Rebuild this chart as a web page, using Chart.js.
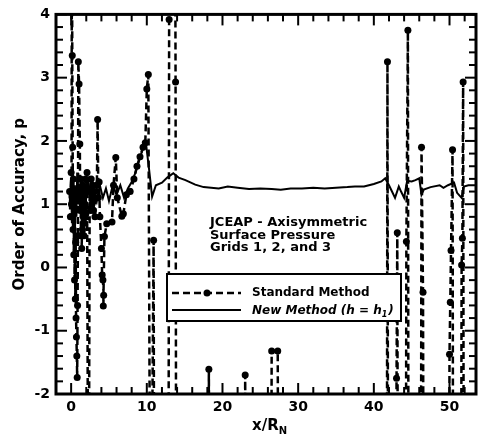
<!DOCTYPE html>
<html>
<head>
<meta charset="utf-8">
<script src="https://cdn.jsdelivr.net/npm/chart.js@4/dist/chart.umd.min.js"></script>
<style>
  html, body { margin: 0; padding: 0; background: #fff; }
</style>
</head>
<body>
<canvas id="chart" width="480" height="437"></canvas>
<script>
// Standard method: x/R_N and order of accuracy p (values below -2 / above 4 run off the plot)
const stdX = [-0.2, -0.1, 0.0, 0.05, 0.1, 0.15, 0.2, 0.25, 0.3, 0.35, 0.4, 0.45, 0.5, 0.55, 0.6, 0.65, 0.7, 0.75, 0.8,
  0.85, 0.9, 0.95, 1.05, 1.15, 1.2, 1.25, 1.3, 1.35, 1.4, 1.45, 1.5, 1.55, 1.6, 1.65, 1.7, 1.75, 1.8, 1.85, 1.9,
  1.95, 2.0, 2.1, 2.3, 2.45, 2.55, 2.65, 2.75, 2.85, 2.95, 3.05, 3.15, 3.25, 3.4, 3.5, 3.6, 3.7, 3.8, 4.0, 4.1,
  4.2, 4.3, 4.25, 4.4, 4.7, 5.4, 5.6, 5.9, 6.1, 6.7, 6.9, 7.3, 7.8, 8.3, 8.7, 9.1,
  9.5, 9.8, 10.0, 10.2, 10.5, 10.9, 11.0, 12.85, 12.95, 13.05, 13.7, 13.8, 13.9, 18.1, 18.2, 18.3, 22.9, 23.0,
  23.1, 26.4, 26.5, 27.3, 27.4, 41.7, 41.8, 41.9, 42.9, 43.0, 43.1, 43.2, 44.2, 44.3, 44.5, 44.6, 46.2, 46.3,
  46.5, 46.6, 49.9, 50.0, 50.1, 50.2, 50.4, 50.5, 51.5, 51.6, 51.7, 51.8, 51.9, 53.5];
const stdP = [1.2, 0.8, 1.5, 1.0, 6, 3.35, 1.9, 0.6, 1.4, 0.2, 1.1, -0.2, 0.9, -0.5, 0.4, -0.8, -1.1, -1.4, -1.74,
  -0.6, 0.5, 3.25, 2.9, 1.95, 0.9, 1.4, 0.5, 1.2, 0.3, 1.0, 0.6, 1.3, 0.8, 1.1, 0.5, 1.25, 0.7, 1.0, 1.4,
  0.85, 1.2, 1.5, -6, 1.2, 0.9, 1.4, 1.0, 1.3, 0.9, 1.2, 0.8, 1.1, 1.3, 2.34, 1.1, 1.35, 0.8, 0.3, -0.12,
  -0.2, -0.44, -0.61, 0.49, 0.69, 0.72, 1.3, 1.74, 1.1, 0.81, 0.85, 1.15, 1.2, 1.4, 1.6, 1.75,
  1.9, 1.97, 2.82, 3.05, -6, 0.43, -6, -6, 3.92, 8, 8, 2.93, -6, -6, -1.61, -6, -6, -1.70,
  -6, -6, -1.32, -1.32, -6, -6, 3.25, -6, -6, -1.75, 0.55, -6, -6, 0.41, 3.75, -6, -6, 1.9,
  -0.39, -6, -6, -1.37, -0.55, 0.27, 1.86, -6, -6, 0.04, 0.46, 2.93, -6, -6];

// New method (h = h1)
const newX = [-0.2, 0.0, 0.1, 0.2, 0.3, 0.4, 0.5, 0.6, 0.7, 0.8, 0.9, 1.0, 1.2, 1.4, 1.6, 1.8, 2.0, 2.3, 2.6, 3.0,
  3.4, 3.8, 4.2, 4.6, 5.0, 5.5, 6.0, 6.5, 7.0, 7.5, 8.0, 8.5, 9.0, 9.5, 9.9, 10.3, 10.7, 11.2, 12.0, 12.7, 13.5,
  14.2, 15.1, 16.4, 17.5, 18.5, 19.5, 20.7, 22, 23.5, 25, 26.5, 27.7, 29, 30.5, 32, 33.5, 35, 36.5, 37.5, 38.7,
  40.0, 41.0, 41.5, 42.0, 42.4, 42.8, 43.3, 43.6, 44.0, 44.4, 45.0, 45.5, 46.0, 46.3, 46.6, 47.5, 48.7, 49.2,
  49.8, 50.6, 51.0, 51.6, 51.9, 52.5, 53.5];
const newP = [1.0, 1.4, 0.7, 1.6, 0.9, 1.3, 0.6, 1.2, 0.8, 1.5, 1.0, 1.3, 0.9, 1.4, 1.0, 1.3, 1.1, 1.35, 1.0, 1.25,
  1.05, 1.3, 1.1, 1.25, 1.05, 1.3, 1.15, 1.3, 1.1, 1.25, 1.35, 1.5, 1.7, 1.88, 1.95, 1.55, 1.12, 1.3, 1.34, 1.42, 1.49,
  1.42, 1.38, 1.31, 1.27, 1.26, 1.25, 1.28, 1.26, 1.24, 1.25, 1.24, 1.23, 1.25, 1.25, 1.26, 1.25, 1.26, 1.27, 1.28, 1.28,
  1.32, 1.36, 1.41, 1.3, 1.2, 1.1, 1.28, 1.2, 1.1, 1.37, 1.36, 1.38, 1.41, 1.15, 1.23, 1.27, 1.3, 1.26,
  1.3, 1.34, 1.18, 1.1, 1.28, 1.3, 1.3];

const noteLines = ['JCEAP - Axisymmetric', 'Surface Pressure', 'Grids 1, 2, and 3'];

const FONT = '"DejaVu Sans", "Liberation Sans", Arial, sans-serif';

function pts(xs, ys) {
  return xs.map((x, i) => ({ x: x, y: ys[i] }));
}

// frame, inward ticks, legend box, note and x title
const decor = {
  id: 'decor',
  afterDraw(chart) {
    const ctx = chart.ctx;
    const a = chart.chartArea;
    const xs = chart.scales.x, ys = chart.scales.y;
    ctx.save();
    ctx.strokeStyle = '#000';
    ctx.fillStyle = '#000';

    const seg = (x1, y1, x2, y2) => { ctx.beginPath(); ctx.moveTo(x1, y1); ctx.lineTo(x2, y2); ctx.stroke(); };

    ctx.lineWidth = 2;
    for (let i = 0; i <= 30; i++) {
      const v = ys.min + i * 0.2;
      const py = ys.getPixelForValue(v);
      const len = i % 5 === 0 ? 11 : 7;
      seg(a.left, py, a.left + len, py);
      seg(a.right, py, a.right - len, py);
    }
    for (let v = 0; v <= xs.max; v += 2) {
      const px = xs.getPixelForValue(v);
      const len = v % 10 === 0 ? 11 : 7;
      seg(px, a.bottom, px, a.bottom - len);
      seg(px, a.top, px, a.top + len);
    }
    ctx.lineWidth = 3;
    ctx.strokeRect(a.left, a.top, a.right - a.left, a.bottom - a.top);

    // note
    ctx.font = 'bold 13px ' + FONT;
    ctx.textBaseline = 'alphabetic';
    ctx.textAlign = 'left';
    noteLines.forEach((t, i) => ctx.fillText(t, 210, 226 + i * 12.5));

    // legend
    const ds = chart.data.datasets;
    const bx = 167, by = 274, bw = 234, bh = 47;
    ctx.fillStyle = '#fff';
    ctx.fillRect(bx, by, bw, bh);
    ctx.lineWidth = 2;
    ctx.strokeRect(bx, by, bw, bh);
    ctx.fillStyle = '#000';
    ctx.lineWidth = 2.5;
    ctx.setLineDash([7, 4]);
    seg(172, 293, 241, 293);
    ctx.setLineDash([]);
    ctx.beginPath(); ctx.arc(207, 293, 3.5, 0, Math.PI * 2); ctx.fill();
    ctx.lineWidth = 2;
    seg(172, 310, 241, 310);
    ctx.textBaseline = 'middle';
    ctx.font = 'bold 12px ' + FONT;
    ctx.fillText(ds[0].label, 252, 293);
    ctx.font = 'italic bold 12px ' + FONT;
    const main = ds[1].label;
    ctx.fillText(main, 252, 311);
    let w = ctx.measureText(main).width;
    ctx.font = 'italic bold 8px ' + FONT;
    ctx.fillText('1', 252 + w, 315);
    w += ctx.measureText('1').width;
    ctx.font = 'italic bold 12px ' + FONT;
    ctx.fillText(')', 252 + w + 1, 311);

    // x axis title with subscript
    ctx.textBaseline = 'alphabetic';
    ctx.font = 'bold 15px ' + FONT;
    const t = 'x/R';
    const tw = ctx.measureText(t).width;
    ctx.fillText(t, 252, 430);
    ctx.font = 'bold 10px ' + FONT;
    ctx.fillText('N', 252 + tw, 434);
    ctx.restore();
  }
};

new Chart(document.getElementById('chart'), {
  type: 'line',
  data: {
    datasets: [
      {
        label: 'Standard Method',
        data: pts(stdX, stdP),
        borderColor: '#000',
        backgroundColor: '#000',
        borderWidth: 2.5,
        borderDash: [7, 4],
        pointRadius: 3.5,
        pointBorderWidth: 0,
        pointBackgroundColor: '#000',
        tension: 0,
        clip: 1
      },
      {
        label: 'New Method (h = h',
        data: pts(newX, newP),
        borderColor: '#000',
        borderWidth: 2,
        pointRadius: 0,
        tension: 0,
        clip: 1
      }
    ]
  },
  options: {
    responsive: false,
    animation: false,
    devicePixelRatio: 1,
    layout: { padding: { left: 0, right: 2, top: 6, bottom: 0 } },
    plugins: { legend: { display: false }, tooltip: { enabled: false } },
    scales: {
      x: {
        type: 'linear',
        min: -2,
        max: 53.5,
        grid: { display: false, drawTicks: false },
        border: { display: false },
        ticks: {
          stepSize: 10,
          includeBounds: false,
          padding: 5,
          color: '#000',
          font: { family: FONT, size: 14, weight: 'bold' }
        },
        afterFit(scale) { scale.height = 43; }
      },
      y: {
        min: -2,
        max: 4,
        grid: { display: false, drawTicks: false },
        border: { display: false },
        ticks: {
          stepSize: 1,
          padding: 6,
          color: '#000',
          font: { family: FONT, size: 14, weight: 'bold' }
        },
        title: {
          display: true,
          text: 'Order of Accuracy, p',
          color: '#000',
          font: { family: FONT, size: 15, weight: 'bold' },
          padding: { top: 11, bottom: 0 }
        },
        afterFit(scale) { scale.width = 56; }
      }
    }
  },
  plugins: [decor]
});
</script>
</body>
</html>
